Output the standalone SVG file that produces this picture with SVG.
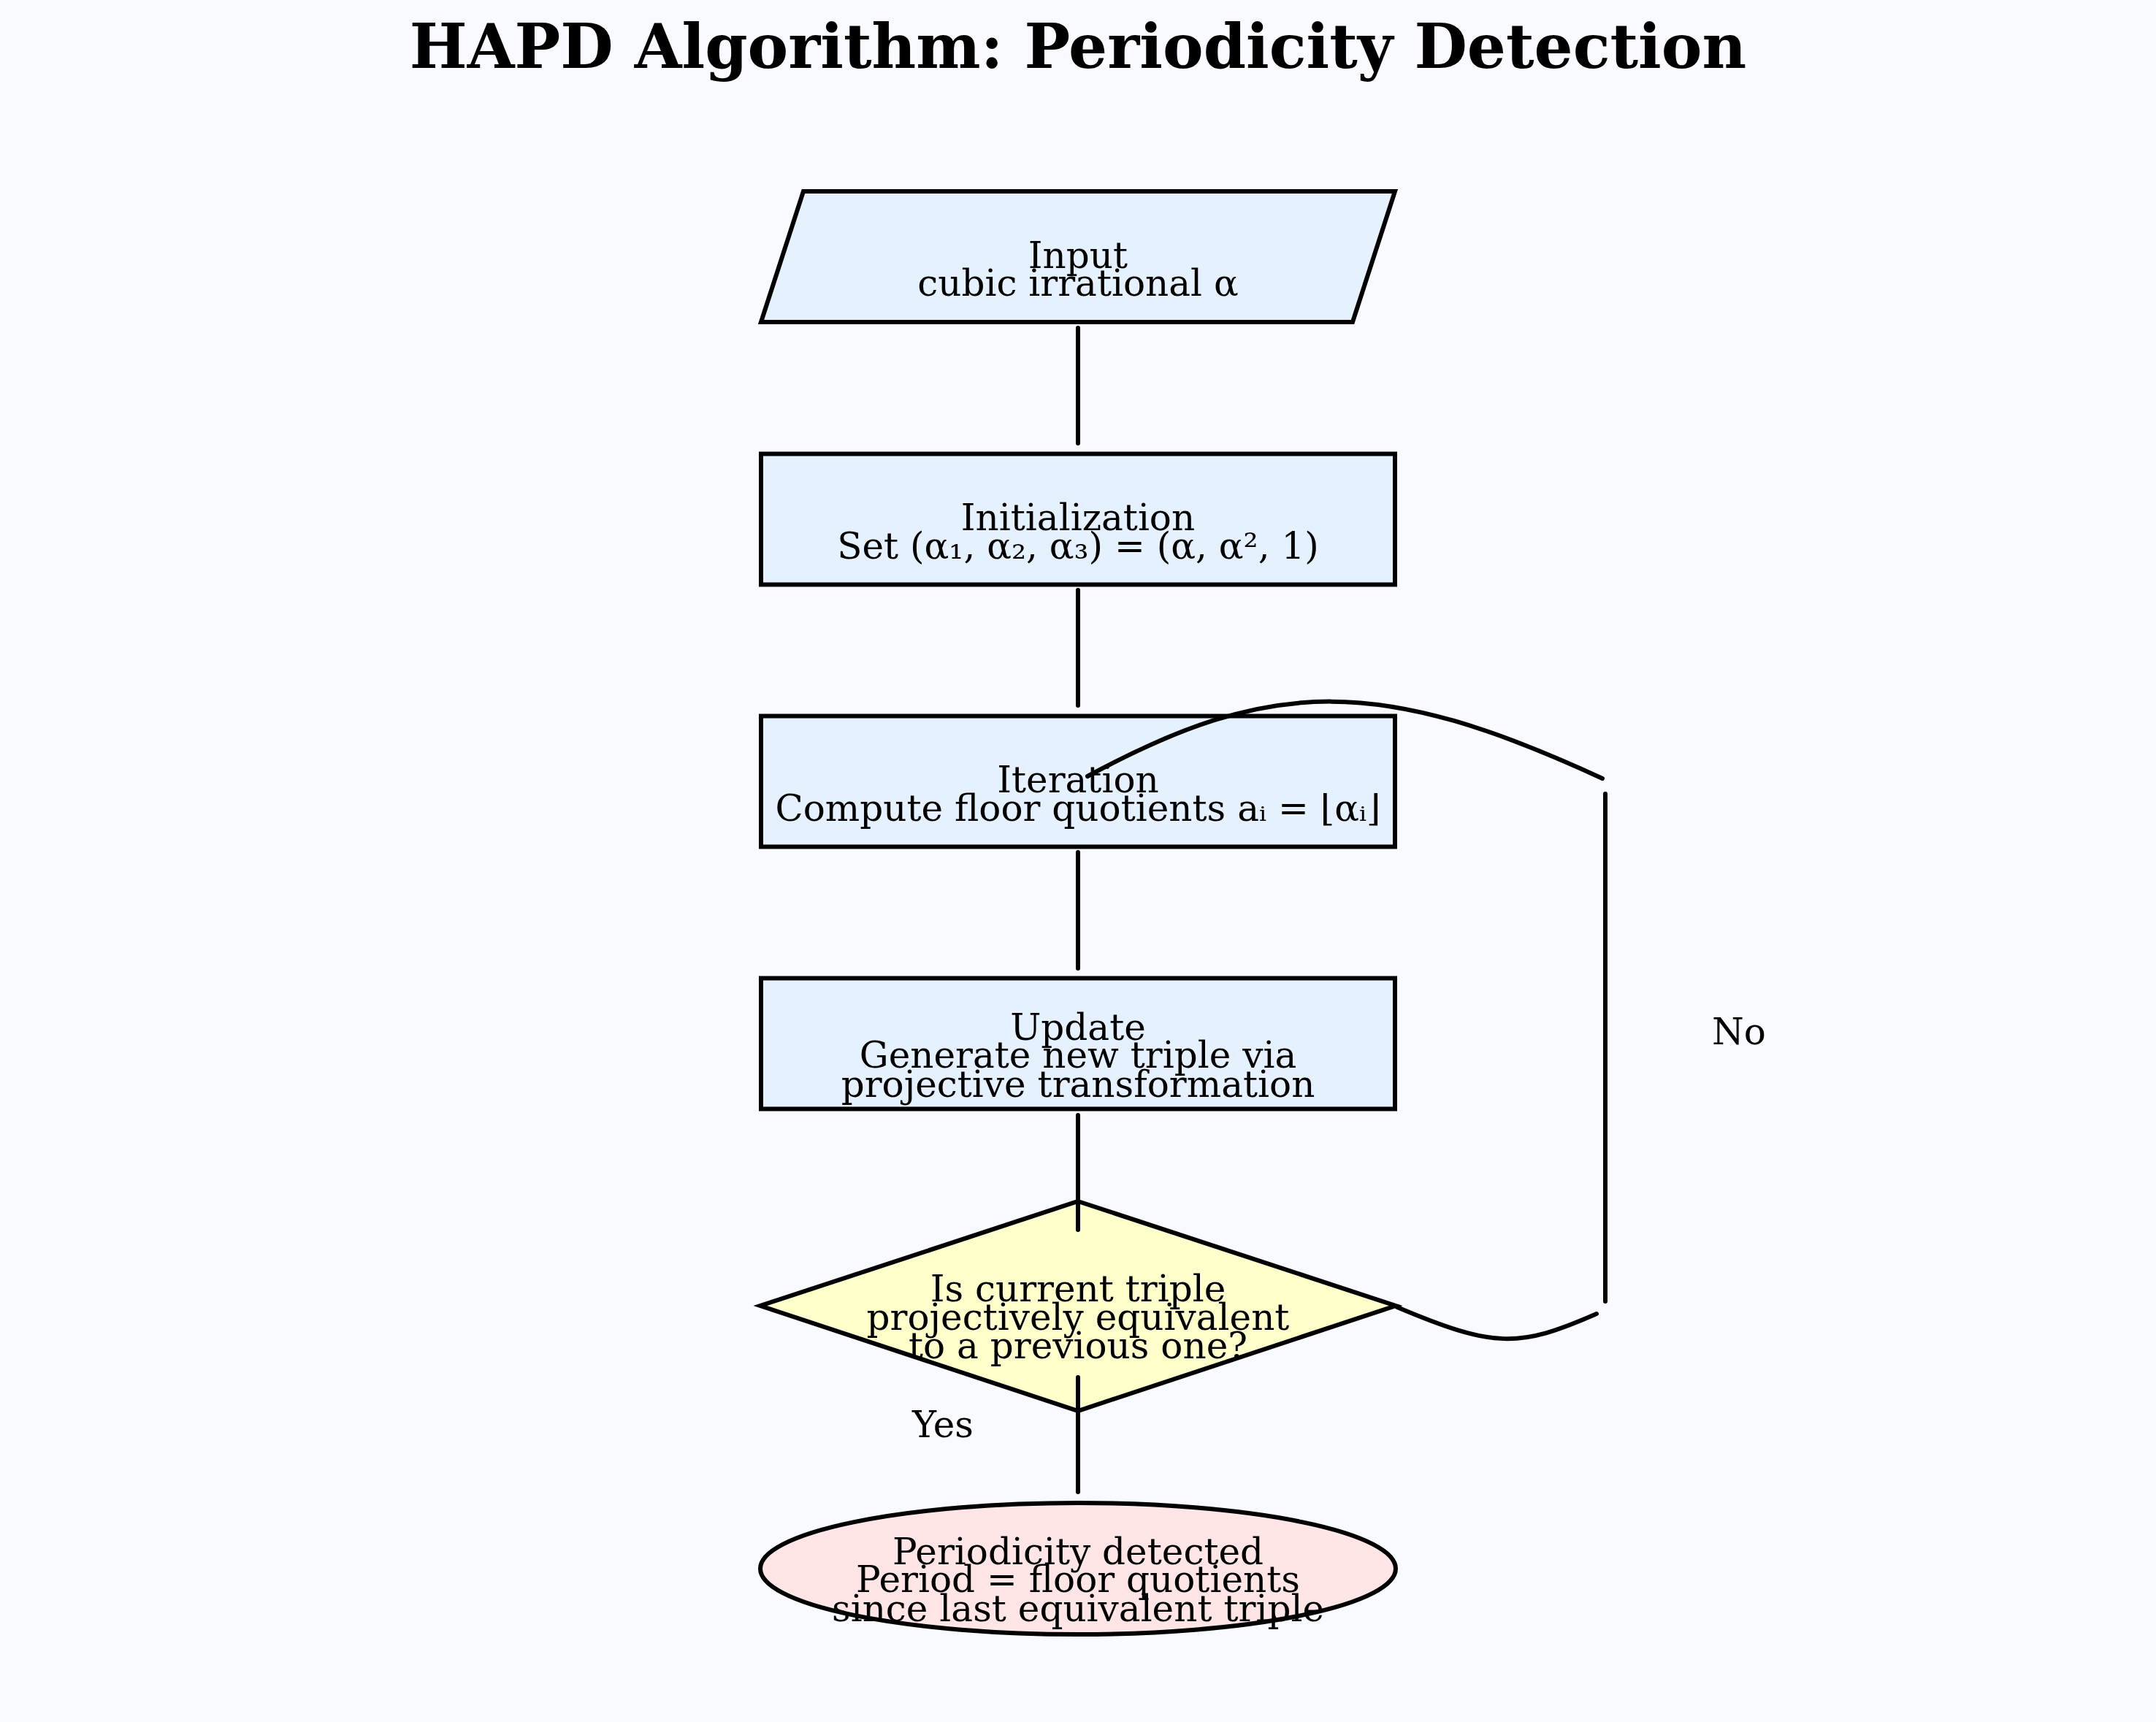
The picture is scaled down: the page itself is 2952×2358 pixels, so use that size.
<svg xmlns="http://www.w3.org/2000/svg" width="2952" height="2358" viewBox="0 0 2952 2358">
<style>
.bg{fill:#F8FAFF}
.node{stroke:#000;stroke-width:6}
.proc{fill:#E5F1FF}
.dec{fill:#FFFFCC}
.term{fill:#FFE5E5}
.lbl{font-family:"DejaVu Serif","Liberation Serif",serif;font-size:50px;fill:#000;text-anchor:middle}
.title{font-family:"DejaVu Serif","Liberation Serif",serif;font-size:83.5px;font-weight:bold;fill:#000;text-anchor:middle}
.edge{fill:none;stroke:#000;stroke-width:6;stroke-linecap:round}
</style>
<rect class="bg" x="0" y="0" width="2952" height="2358"/>
<text class="title" x="1476" y="93">HAPD Algorithm: Periodicity Detection</text>
<g id="input">
<polygon class="node proc" points="1100,262 1910,262 1852,441 1042,441"/>
<text class="lbl" x="1476" y="366.5">Input</text>
<text class="lbl" x="1476" y="405">cubic irrational α</text>
</g>
<g id="init">
<rect class="node proc" x="1042" y="621.5" width="868" height="179"/>
<text class="lbl" x="1476" y="726">Initialization</text>
<text class="lbl" x="1476" y="765">Set (α₁, α₂, α₃) = (α, α², 1)</text>
</g>
<g id="iteration">
<rect class="node proc" x="1042" y="980.5" width="868" height="179"/>
<text class="lbl" x="1476" y="1085">Iteration</text>
<text class="lbl" x="1476" y="1124">Compute floor quotients aᵢ = ⌊αᵢ⌋</text>
</g>
<g id="update">
<rect class="node proc" x="1042" y="1339.5" width="868" height="179"/>
<text class="lbl" x="1476" y="1423.5">Update</text>
<text class="lbl" x="1476" y="1462">Generate new triple via</text>
<text class="lbl" x="1476" y="1501.5">projective transformation</text>
</g>
<g id="decision">
<polygon class="node dec" points="1476,1645 1911,1788 1476,1932 1041,1788"/>
<text class="lbl" x="1476" y="1782">Is current triple</text>
<text class="lbl" x="1476" y="1821">projectively equivalent</text>
<text class="lbl" x="1476" y="1859.5">to a previous one?</text>
</g>
<g id="result">
<ellipse class="node term" cx="1476" cy="2148" rx="435" ry="90"/>
<text class="lbl" x="1476" y="2141.7">Periodicity detected</text>
<text class="lbl" x="1476" y="2180">Period = floor quotients</text>
<text class="lbl" x="1476" y="2220">since last equivalent triple</text>
</g>
<g id="connectors">
<line class="edge" x1="1476" y1="449" x2="1476" y2="607"/>
<line class="edge" x1="1476" y1="808" x2="1476" y2="966"/>
<line class="edge" x1="1476" y1="1167" x2="1476" y2="1326"/>
<line class="edge" x1="1476" y1="1527" x2="1476" y2="1684"/>
<line class="edge" x1="1476" y1="1886" x2="1476" y2="2043"/>
<path class="edge" d="M1913 1790 C2046 1846 2079 1846 2186 1799"/>
<line class="edge" x1="2198" y1="1782" x2="2198" y2="1087"/>
<path class="edge" d="M2194 1066 C1891 926 1742 926 1489 1063"/>
<text class="lbl" x="2381" y="1430">No</text>
<text class="lbl" x="1291" y="1968">Yes</text>
</g>
</svg>
